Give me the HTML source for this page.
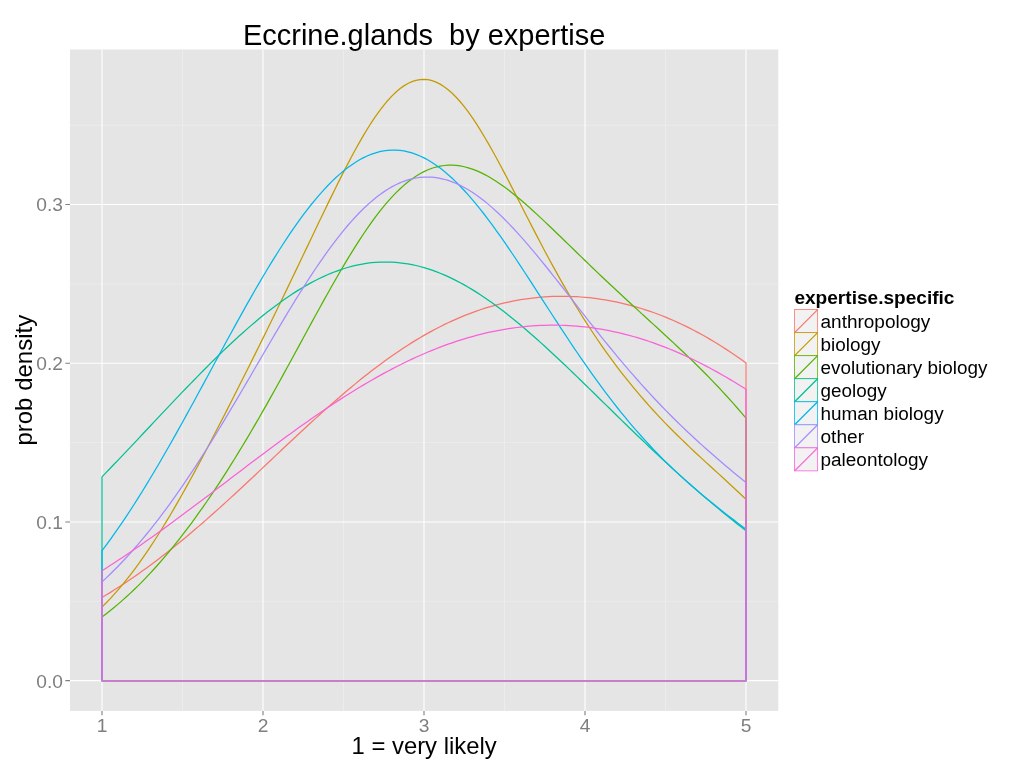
<!DOCTYPE html>
<html lang="en"><head><meta charset="utf-8"><title>Eccrine.glands by expertise</title>
<style>
html,body{margin:0;padding:0;background:#fff;}
body{width:1024px;height:768px;overflow:hidden;}
svg{display:block;font-family:"Liberation Sans",Arial,Helvetica,sans-serif;fill:#000;}
</style></head><body>
<svg width="1024" height="768" viewBox="0 0 1024 768">
<rect width="1024" height="768" fill="#FFFFFF"/>
<rect x="69.95" y="49.5" width="708.35" height="661.40" fill="#E5E5E5"/>
<path d="M69.95 601.29H778.3M69.95 442.57H778.3M69.95 283.85H778.3M69.95 125.13H778.3M182.5 49.5V710.9M343.5 49.5V710.9M504.5 49.5V710.9M665.5 49.5V710.9" stroke="#F2F2F2" stroke-width="0.55" fill="none"/>
<path d="M69.95 680.65H778.3M69.95 521.93H778.3M69.95 363.21H778.3M69.95 204.49H778.3M102 49.5V710.9M263 49.5V710.9M424 49.5V710.9M585 49.5V710.9M746 49.5V710.9" stroke="#FFFFFF" stroke-width="1.1" fill="none"/>
<path d="M102 680.65L102 597.49L106.02 595.07L110.05 592.6L114.07 590.09L118.1 587.52L122.12 584.9L126.15 582.24L130.18 579.53L134.2 576.76L138.23 573.95L142.25 571.09L146.27 568.19L150.3 565.23L154.32 562.23L158.35 559.19L162.38 556.1L166.4 552.96L170.43 549.79L174.45 546.56L178.48 543.3L182.5 540L186.52 536.65L190.55 533.27L194.58 529.85L198.6 526.4L202.62 522.91L206.65 519.39L210.68 515.84L214.7 512.25L218.73 508.64L222.75 505L226.77 501.34L230.8 497.66L234.83 493.95L238.85 490.22L242.88 486.48L246.9 482.72L250.93 478.95L254.95 475.17L258.98 471.38L263 467.58L267.03 463.78L271.05 459.97L275.08 456.17L279.1 452.37L283.12 448.57L287.15 444.78L291.17 441L295.2 437.23L299.23 433.47L303.25 429.73L307.28 426.01L311.3 422.31L315.33 418.64L319.35 414.99L323.38 411.36L327.4 407.77L331.42 404.21L335.45 400.68L339.48 397.19L343.5 393.73L347.53 390.32L351.55 386.95L355.58 383.63L359.6 380.35L363.62 377.11L367.65 373.93L371.67 370.8L375.7 367.72L379.73 364.7L383.75 361.73L387.78 358.82L391.8 355.97L395.83 353.18L399.85 350.45L403.88 347.78L407.9 345.17L411.92 342.63L415.95 340.15L419.98 337.74L424 335.39L428.02 333.12L432.05 330.9L436.08 328.76L440.1 326.69L444.12 324.68L448.15 322.75L452.18 320.88L456.2 319.08L460.23 317.35L464.25 315.69L468.27 314.1L472.3 312.59L476.33 311.14L480.35 309.76L484.38 308.44L488.4 307.2L492.43 306.03L496.45 304.92L500.48 303.89L504.5 302.92L508.53 302.02L512.55 301.19L516.58 300.42L520.6 299.72L524.62 299.09L528.65 298.52L532.68 298.02L536.7 297.58L540.73 297.21L544.75 296.9L548.78 296.66L552.8 296.48L556.83 296.36L560.85 296.31L564.88 296.32L568.9 296.4L572.93 296.54L576.95 296.74L580.98 297L585 297.33L589.03 297.72L593.05 298.17L597.08 298.68L601.1 299.26L605.12 299.9L609.15 300.6L613.18 301.37L617.2 302.2L621.22 303.09L625.25 304.04L629.28 305.06L633.3 306.15L637.33 307.29L641.35 308.51L645.38 309.78L649.4 311.12L653.43 312.53L657.45 314L661.47 315.54L665.5 317.14L669.53 318.81L673.55 320.54L677.58 322.34L681.6 324.21L685.62 326.14L689.65 328.14L693.68 330.21L697.7 332.34L701.72 334.53L705.75 336.8L709.78 339.13L713.8 341.52L717.83 343.98L721.85 346.51L725.88 349.1L729.9 351.75L733.93 354.47L737.95 357.25L741.97 360.09L746 363L746 680.65Z" stroke="#F8766D" stroke-width="1.25" fill="none" stroke-linejoin="round"/>
<path d="M102 680.65L102 607.09L106.02 603.04L110.05 598.83L114.07 594.44L118.1 589.86L122.12 585.11L126.15 580.19L130.18 575.08L134.2 569.79L138.23 564.33L142.25 558.69L146.27 552.88L150.3 546.91L154.32 540.77L158.35 534.48L162.38 528.03L166.4 521.45L170.43 514.72L174.45 507.86L178.48 500.88L182.5 493.79L186.52 486.59L190.55 479.29L194.58 471.89L198.6 464.42L202.62 456.87L206.65 449.25L210.68 441.57L214.7 433.83L218.73 426.05L222.75 418.22L226.77 410.35L230.8 402.44L234.83 394.5L238.85 386.53L242.88 378.53L246.9 370.51L250.93 362.45L254.95 354.37L258.98 346.26L263 338.12L267.03 329.95L271.05 321.75L275.08 313.51L279.1 305.25L283.12 296.95L287.15 288.63L291.17 280.27L295.2 271.89L299.23 263.48L303.25 255.06L307.28 246.62L311.3 238.19L315.33 229.76L319.35 221.34L323.38 212.97L327.4 204.63L331.42 196.37L335.45 188.18L339.48 180.1L343.5 172.15L347.53 164.35L351.55 156.72L355.58 149.3L359.6 142.1L363.62 135.16L367.65 128.5L371.67 122.16L375.7 116.16L379.73 110.53L383.75 105.29L387.78 100.47L391.8 96.1L395.83 92.2L399.85 88.78L403.88 85.87L407.9 83.49L411.92 81.63L415.95 80.33L419.98 79.57L424 79.37L428.02 79.73L432.05 80.65L436.08 82.11L440.1 84.12L444.12 86.66L448.15 89.7L452.18 93.25L456.2 97.28L460.23 101.75L464.25 106.66L468.27 111.98L472.3 117.67L476.33 123.7L480.35 130.06L484.38 136.7L488.4 143.59L492.43 150.71L496.45 158.02L500.48 165.5L504.5 173.11L508.53 180.82L512.55 188.61L516.58 196.45L520.6 204.32L524.62 212.19L528.65 220.05L532.68 227.87L536.7 235.63L540.73 243.32L544.75 250.93L548.78 258.45L552.8 265.86L556.83 273.16L560.85 280.34L564.88 287.39L568.9 294.31L572.93 301.1L576.95 307.75L580.98 314.27L585 320.65L589.03 326.9L593.05 333.01L597.08 339L601.1 344.85L605.12 350.58L609.15 356.19L613.18 361.67L617.2 367.03L621.22 372.28L625.25 377.42L629.28 382.45L633.3 387.37L637.33 392.19L641.35 396.91L645.38 401.53L649.4 406.06L653.43 410.5L657.45 414.86L661.47 419.13L665.5 423.33L669.53 427.45L673.55 431.5L677.58 435.49L681.6 439.42L685.62 443.3L689.65 447.13L693.68 450.92L697.7 454.67L701.72 458.4L705.75 462.1L709.78 465.79L713.8 469.47L717.83 473.14L721.85 476.82L725.88 480.51L729.9 484.21L733.93 487.93L737.95 491.68L741.97 495.46L746 499.27L746 680.65Z" stroke="#C49A00" stroke-width="1.25" fill="none" stroke-linejoin="round"/>
<path d="M102 680.65L102 616.95L106.02 613.91L110.05 610.76L114.07 607.5L118.1 604.13L122.12 600.65L126.15 597.06L130.18 593.36L134.2 589.54L138.23 585.61L142.25 581.57L146.27 577.41L150.3 573.14L154.32 568.76L158.35 564.26L162.38 559.65L166.4 554.93L170.43 550.1L174.45 545.16L178.48 540.11L182.5 534.95L186.52 529.68L190.55 524.3L194.58 518.82L198.6 513.24L202.62 507.55L206.65 501.76L210.68 495.87L214.7 489.88L218.73 483.79L222.75 477.6L226.77 471.32L230.8 464.95L234.83 458.49L238.85 451.94L242.88 445.3L246.9 438.58L250.93 431.78L254.95 424.9L258.98 417.94L263 410.92L267.03 403.83L271.05 396.68L275.08 389.47L279.1 382.21L283.12 374.91L287.15 367.57L291.17 360.19L295.2 352.8L299.23 345.39L303.25 337.98L307.28 330.57L311.3 323.17L315.33 315.8L319.35 308.46L323.38 301.17L327.4 293.94L331.42 286.79L335.45 279.72L339.48 272.74L343.5 265.88L347.53 259.14L351.55 252.55L355.58 246.1L359.6 239.82L363.62 233.72L367.65 227.82L371.67 222.12L375.7 216.64L379.73 211.39L383.75 206.39L387.78 201.63L391.8 197.14L395.83 192.92L399.85 188.99L403.88 185.34L407.9 181.98L411.92 178.93L415.95 176.17L419.98 173.73L424 171.59L428.02 169.76L432.05 168.24L436.08 167.02L440.1 166.11L444.12 165.5L448.15 165.19L452.18 165.16L456.2 165.42L460.23 165.95L464.25 166.75L468.27 167.8L472.3 169.1L476.33 170.64L480.35 172.4L484.38 174.38L488.4 176.56L492.43 178.93L496.45 181.48L500.48 184.19L504.5 187.06L508.53 190.06L512.55 193.2L516.58 196.46L520.6 199.82L524.62 203.28L528.65 206.82L532.68 210.43L536.7 214.11L540.73 217.85L544.75 221.63L548.78 225.45L552.8 229.3L556.83 233.18L560.85 237.07L564.88 240.98L568.9 244.89L572.93 248.8L576.95 252.71L580.98 256.61L585 260.5L589.03 264.38L593.05 268.25L597.08 272.1L601.1 275.93L605.12 279.75L609.15 283.54L613.18 287.32L617.2 291.08L621.22 294.83L625.25 298.55L629.28 302.27L633.3 305.97L637.33 309.66L641.35 313.34L645.38 317.02L649.4 320.7L653.43 324.38L657.45 328.06L661.47 331.75L665.5 335.45L669.53 339.17L673.55 342.91L677.58 346.67L681.6 350.46L685.62 354.29L689.65 358.15L693.68 362.05L697.7 366L701.72 369.99L705.75 374.04L709.78 378.15L713.8 382.32L717.83 386.55L721.85 390.84L725.88 395.21L729.9 399.65L733.93 404.16L737.95 408.74L741.97 413.4L746 418.14L746 680.65Z" stroke="#53B400" stroke-width="1.25" fill="none" stroke-linejoin="round"/>
<path d="M102 680.65L102 476.82L106.02 472.66L110.05 468.49L114.07 464.29L118.1 460.08L122.12 455.85L126.15 451.61L130.18 447.35L134.2 443.09L138.23 438.82L142.25 434.54L146.27 430.26L150.3 425.97L154.32 421.69L158.35 417.41L162.38 413.14L166.4 408.87L170.43 404.62L174.45 400.38L178.48 396.15L182.5 391.94L186.52 387.75L190.55 383.58L194.58 379.44L198.6 375.33L202.62 371.24L206.65 367.2L210.68 363.18L214.7 359.21L218.73 355.27L222.75 351.38L226.77 347.54L230.8 343.75L234.83 340.01L238.85 336.33L242.88 332.7L246.9 329.14L250.93 325.64L254.95 322.2L258.98 318.84L263 315.55L267.03 312.33L271.05 309.19L275.08 306.13L279.1 303.15L283.12 300.26L287.15 297.46L291.17 294.75L295.2 292.13L299.23 289.6L303.25 287.18L307.28 284.85L311.3 282.63L315.33 280.51L319.35 278.49L323.38 276.59L327.4 274.79L331.42 273.11L335.45 271.54L339.48 270.08L343.5 268.74L347.53 267.52L351.55 266.42L355.58 265.44L359.6 264.58L363.62 263.84L367.65 263.22L371.67 262.73L375.7 262.36L379.73 262.12L383.75 262L387.78 262L391.8 262.13L395.83 262.39L399.85 262.77L403.88 263.27L407.9 263.89L411.92 264.64L415.95 265.51L419.98 266.5L424 267.61L428.02 268.84L432.05 270.18L436.08 271.64L440.1 273.21L444.12 274.89L448.15 276.69L452.18 278.59L456.2 280.6L460.23 282.71L464.25 284.92L468.27 287.24L472.3 289.64L476.33 292.15L480.35 294.74L484.38 297.42L488.4 300.19L492.43 303.04L496.45 305.97L500.48 308.98L504.5 312.06L508.53 315.21L512.55 318.43L516.58 321.72L520.6 325.06L524.62 328.47L528.65 331.93L532.68 335.44L536.7 339L540.73 342.61L544.75 346.26L548.78 349.95L552.8 353.67L556.83 357.43L560.85 361.22L564.88 365.04L568.9 368.88L572.93 372.75L576.95 376.63L580.98 380.53L585 384.44L589.03 388.36L593.05 392.3L597.08 396.23L601.1 400.18L605.12 404.12L609.15 408.06L613.18 412L617.2 415.93L621.22 419.86L625.25 423.77L629.28 427.68L633.3 431.57L637.33 435.45L641.35 439.31L645.38 443.16L649.4 446.99L653.43 450.79L657.45 454.58L661.47 458.34L665.5 462.08L669.53 465.79L673.55 469.48L677.58 473.14L681.6 476.77L685.62 480.38L689.65 483.95L693.68 487.5L697.7 491.01L701.72 494.5L705.75 497.95L709.78 501.38L713.8 504.77L717.83 508.13L721.85 511.45L725.88 514.74L729.9 518L733.93 521.23L737.95 524.42L741.97 527.58L746 530.71L746 680.65Z" stroke="#00C094" stroke-width="1.25" fill="none" stroke-linejoin="round"/>
<path d="M102 680.65L102 550.72L106.02 545.34L110.05 539.84L114.07 534.22L118.1 528.46L122.12 522.59L126.15 516.59L130.18 510.48L134.2 504.25L138.23 497.91L142.25 491.47L146.27 484.92L150.3 478.27L154.32 471.53L158.35 464.71L162.38 457.8L166.4 450.81L170.43 443.75L174.45 436.62L178.48 429.43L182.5 422.18L186.52 414.89L190.55 407.56L194.58 400.19L198.6 392.79L202.62 385.37L206.65 377.94L210.68 370.5L214.7 363.05L218.73 355.62L222.75 348.2L226.77 340.81L230.8 333.44L234.83 326.11L238.85 318.83L242.88 311.6L246.9 304.43L250.93 297.34L254.95 290.31L258.98 283.38L263 276.54L267.03 269.79L271.05 263.16L275.08 256.64L279.1 250.25L283.12 243.99L287.15 237.87L291.17 231.89L295.2 226.08L299.23 220.42L303.25 214.94L307.28 209.63L311.3 204.5L315.33 199.57L319.35 194.84L323.38 190.31L327.4 186L331.42 181.9L335.45 178.03L339.48 174.39L343.5 170.98L347.53 167.81L351.55 164.9L355.58 162.23L359.6 159.81L363.62 157.66L367.65 155.77L371.67 154.14L375.7 152.79L379.73 151.7L383.75 150.89L387.78 150.36L391.8 150.1L395.83 150.11L399.85 150.4L403.88 150.97L407.9 151.81L411.92 152.93L415.95 154.31L419.98 155.96L424 157.88L428.02 160.05L432.05 162.49L436.08 165.17L440.1 168.1L444.12 171.27L448.15 174.67L452.18 178.3L456.2 182.15L460.23 186.21L464.25 190.47L468.27 194.93L472.3 199.57L476.33 204.38L480.35 209.37L484.38 214.51L488.4 219.79L492.43 225.22L496.45 230.76L500.48 236.43L504.5 242.2L508.53 248.06L512.55 254L516.58 260.02L520.6 266.1L524.62 272.23L528.65 278.4L532.68 284.6L536.7 290.82L540.73 297.05L544.75 303.29L548.78 309.52L552.8 315.73L556.83 321.92L560.85 328.08L564.88 334.2L568.9 340.27L572.93 346.29L576.95 352.24L580.98 358.14L585 363.96L589.03 369.7L593.05 375.37L597.08 380.95L601.1 386.45L605.12 391.86L609.15 397.17L613.18 402.39L617.2 407.51L621.22 412.54L625.25 417.47L629.28 422.31L633.3 427.04L637.33 431.68L641.35 436.23L645.38 440.68L649.4 445.04L653.43 449.31L657.45 453.48L661.47 457.58L665.5 461.59L669.53 465.52L673.55 469.37L677.58 473.15L681.6 476.85L685.62 480.49L689.65 484.06L693.68 487.58L697.7 491.03L701.72 494.44L705.75 497.79L709.78 501.09L713.8 504.35L717.83 507.57L721.85 510.75L725.88 513.9L729.9 517.01L733.93 520.1L737.95 523.16L741.97 526.19L746 529.2L746 680.65Z" stroke="#00B6EB" stroke-width="1.25" fill="none" stroke-linejoin="round"/>
<path d="M102 680.65L102 581.92L106.02 578.16L110.05 574.29L114.07 570.31L118.1 566.23L122.12 562.03L126.15 557.72L130.18 553.31L134.2 548.78L138.23 544.13L142.25 539.38L146.27 534.52L150.3 529.54L154.32 524.46L158.35 519.26L162.38 513.96L166.4 508.55L170.43 503.03L174.45 497.41L178.48 491.69L182.5 485.87L186.52 479.95L190.55 473.93L194.58 467.83L198.6 461.64L202.62 455.36L206.65 449L210.68 442.57L214.7 436.07L218.73 429.5L222.75 422.87L226.77 416.18L230.8 409.44L234.83 402.66L238.85 395.84L242.88 388.99L246.9 382.11L250.93 375.22L254.95 368.31L258.98 361.4L263 354.5L267.03 347.61L271.05 340.74L275.08 333.9L279.1 327.1L283.12 320.34L287.15 313.64L291.17 307.01L295.2 300.44L299.23 293.96L303.25 287.57L307.28 281.27L311.3 275.09L315.33 269.02L319.35 263.08L323.38 257.28L327.4 251.62L331.42 246.11L335.45 240.76L339.48 235.59L343.5 230.59L347.53 225.77L351.55 221.15L355.58 216.72L359.6 212.5L363.62 208.5L367.65 204.71L371.67 201.15L375.7 197.82L379.73 194.72L383.75 191.87L387.78 189.25L391.8 186.89L395.83 184.77L399.85 182.9L403.88 181.29L407.9 179.94L411.92 178.84L415.95 178L419.98 177.42L424 177.1L428.02 177.03L432.05 177.21L436.08 177.65L440.1 178.34L444.12 179.27L448.15 180.44L452.18 181.85L456.2 183.5L460.23 185.38L464.25 187.47L468.27 189.79L472.3 192.31L476.33 195.04L480.35 197.97L484.38 201.08L488.4 204.38L492.43 207.86L496.45 211.49L500.48 215.29L504.5 219.24L508.53 223.32L512.55 227.54L516.58 231.88L520.6 236.34L524.62 240.9L528.65 245.56L532.68 250.31L536.7 255.13L540.73 260.03L544.75 264.99L548.78 270L552.8 275.05L556.83 280.14L560.85 285.26L564.88 290.41L568.9 295.56L572.93 300.73L576.95 305.89L580.98 311.05L585 316.19L589.03 321.32L593.05 326.42L597.08 331.5L601.1 336.54L605.12 341.54L609.15 346.5L613.18 351.41L617.2 356.28L621.22 361.09L625.25 365.85L629.28 370.55L633.3 375.2L637.33 379.78L641.35 384.3L645.38 388.77L649.4 393.16L653.43 397.5L657.45 401.77L661.47 405.98L665.5 410.13L669.53 414.22L673.55 418.25L677.58 422.22L681.6 426.13L685.62 429.98L689.65 433.79L693.68 437.54L697.7 441.24L701.72 444.89L705.75 448.5L709.78 452.06L713.8 455.58L717.83 459.07L721.85 462.51L725.88 465.92L729.9 469.3L733.93 472.65L737.95 475.97L741.97 479.27L746 482.54L746 680.65Z" stroke="#A58AFF" stroke-width="1.25" fill="none" stroke-linejoin="round"/>
<path d="M102 680.65L102 570.72L106.02 568.16L110.05 565.58L114.07 562.97L118.1 560.32L122.12 557.66L126.15 554.96L130.18 552.24L134.2 549.49L138.23 546.72L142.25 543.92L146.27 541.11L150.3 538.26L154.32 535.4L158.35 532.52L162.38 529.62L166.4 526.7L170.43 523.76L174.45 520.81L178.48 517.84L182.5 514.86L186.52 511.86L190.55 508.85L194.58 505.84L198.6 502.81L202.62 499.77L206.65 496.72L210.68 493.67L214.7 490.61L218.73 487.55L222.75 484.49L226.77 481.42L230.8 478.36L234.83 475.29L238.85 472.23L242.88 469.17L246.9 466.11L250.93 463.06L254.95 460.02L258.98 456.98L263 453.96L267.03 450.94L271.05 447.94L275.08 444.95L279.1 441.97L283.12 439.01L287.15 436.07L291.17 433.15L295.2 430.24L299.23 427.36L303.25 424.49L307.28 421.65L311.3 418.83L315.33 416.04L319.35 413.28L323.38 410.54L327.4 407.83L331.42 405.15L335.45 402.5L339.48 399.88L343.5 397.29L347.53 394.74L351.55 392.22L355.58 389.74L359.6 387.29L363.62 384.88L367.65 382.51L371.67 380.17L375.7 377.88L379.73 375.63L383.75 373.42L387.78 371.25L391.8 369.12L395.83 367.04L399.85 365L403.88 363.01L407.9 361.06L411.92 359.16L415.95 357.3L419.98 355.49L424 353.73L428.02 352.02L432.05 350.36L436.08 348.75L440.1 347.18L444.12 345.67L448.15 344.21L452.18 342.8L456.2 341.44L460.23 340.14L464.25 338.88L468.27 337.68L472.3 336.54L476.33 335.44L480.35 334.4L484.38 333.41L488.4 332.48L492.43 331.61L496.45 330.78L500.48 330.02L504.5 329.31L508.53 328.65L512.55 328.05L516.58 327.5L520.6 327.02L524.62 326.58L528.65 326.21L532.68 325.89L536.7 325.63L540.73 325.42L544.75 325.27L548.78 325.18L552.8 325.15L556.83 325.17L560.85 325.25L564.88 325.39L568.9 325.59L572.93 325.84L576.95 326.15L580.98 326.52L585 326.94L589.03 327.43L593.05 327.97L597.08 328.56L601.1 329.22L605.12 329.93L609.15 330.7L613.18 331.53L617.2 332.41L621.22 333.36L625.25 334.35L629.28 335.41L633.3 336.52L637.33 337.69L641.35 338.91L645.38 340.19L649.4 341.53L653.43 342.92L657.45 344.37L661.47 345.87L665.5 347.42L669.53 349.03L673.55 350.7L677.58 352.41L681.6 354.18L685.62 356.01L689.65 357.88L693.68 359.81L697.7 361.78L701.72 363.81L705.75 365.88L709.78 368.01L713.8 370.18L717.83 372.4L721.85 374.67L725.88 376.99L729.9 379.35L733.93 381.75L737.95 384.2L741.97 386.69L746 389.22L746 680.65Z" stroke="#FB61D7" stroke-width="1.25" fill="none" stroke-linejoin="round"/>
<path d="M65.35000000000001 680.65H69.95M65.35000000000001 521.93H69.95M65.35000000000001 363.21H69.95M65.35000000000001 204.49H69.95M102 710.9V715.1999999999999M263 710.9V715.1999999999999M424 710.9V715.1999999999999M585 710.9V715.1999999999999M746 710.9V715.1999999999999" stroke="#7F7F7F" stroke-width="1.1" fill="none"/>
<g font-size="19.2" fill="#7F7F7F">
<text x="63" y="688.2" text-anchor="end">0.0</text>
<text x="63" y="529.0" text-anchor="end">0.1</text>
<text x="63" y="370.0" text-anchor="end">0.2</text>
<text x="63" y="211.2" text-anchor="end">0.3</text>
<text x="102" y="731.6" text-anchor="middle">1</text>
<text x="263" y="731.6" text-anchor="middle">2</text>
<text x="424" y="731.6" text-anchor="middle">3</text>
<text x="585" y="731.6" text-anchor="middle">4</text>
<text x="746" y="731.6" text-anchor="middle">5</text>
</g>
<text x="424.12" y="44.8" font-size="28.8" text-anchor="middle" textLength="362.3" lengthAdjust="spacingAndGlyphs" style="white-space:pre">Eccrine.glands  by expertise</text>
<text x="424.12" y="753.8" font-size="24" text-anchor="middle" textLength="145.1" lengthAdjust="spacingAndGlyphs">1 = very likely</text>
<text transform="translate(32.3 380.2) rotate(-90)" font-size="24" text-anchor="middle">prob density</text>
<text x="794.4" y="303.8" font-size="19.2" font-weight="bold" textLength="160.1" lengthAdjust="spacingAndGlyphs">expertise.specific</text>
<rect x="794.6" y="309.6" width="23.04" height="23.04" fill="#F2F2F2" stroke="#F8766D" stroke-width="0.8"/>
<path d="M794.6 332.64L817.64 309.6" stroke="#F8766D" stroke-width="1.25"/>
<text x="820.5" y="328.02" font-size="19.2" textLength="109.85" lengthAdjust="spacingAndGlyphs">anthropology</text>
<rect x="794.6" y="332.64" width="23.04" height="23.04" fill="#F2F2F2" stroke="#C49A00" stroke-width="0.8"/>
<path d="M794.6 355.68L817.64 332.64" stroke="#C49A00" stroke-width="1.25"/>
<text x="820.5" y="351.06" font-size="19.2" textLength="59.9" lengthAdjust="spacingAndGlyphs">biology</text>
<rect x="794.6" y="355.68" width="23.04" height="23.04" fill="#F2F2F2" stroke="#53B400" stroke-width="0.8"/>
<path d="M794.6 378.72L817.64 355.68" stroke="#53B400" stroke-width="1.25"/>
<text x="820.5" y="374.1" font-size="19.2" textLength="166.9" lengthAdjust="spacingAndGlyphs">evolutionary biology</text>
<rect x="794.6" y="378.72" width="23.04" height="23.04" fill="#F2F2F2" stroke="#00C094" stroke-width="0.8"/>
<path d="M794.6 401.76L817.64 378.72" stroke="#00C094" stroke-width="1.25"/>
<text x="820.5" y="397.14" font-size="19.2" textLength="66.2" lengthAdjust="spacingAndGlyphs">geology</text>
<rect x="794.6" y="401.76" width="23.04" height="23.04" fill="#F2F2F2" stroke="#00B6EB" stroke-width="0.8"/>
<path d="M794.6 424.8L817.64 401.76" stroke="#00B6EB" stroke-width="1.25"/>
<text x="820.5" y="420.18" font-size="19.2" textLength="123.1" lengthAdjust="spacingAndGlyphs">human biology</text>
<rect x="794.6" y="424.8" width="23.04" height="23.04" fill="#F2F2F2" stroke="#A58AFF" stroke-width="0.8"/>
<path d="M794.6 447.84L817.64 424.8" stroke="#A58AFF" stroke-width="1.25"/>
<text x="820.5" y="443.22" font-size="19.2" textLength="43.5" lengthAdjust="spacingAndGlyphs">other</text>
<rect x="794.6" y="447.84" width="23.04" height="23.04" fill="#F2F2F2" stroke="#FB61D7" stroke-width="0.8"/>
<path d="M794.6 470.88L817.64 447.84" stroke="#FB61D7" stroke-width="1.25"/>
<text x="820.5" y="466.26" font-size="19.2" textLength="107.6" lengthAdjust="spacingAndGlyphs">paleontology</text>
</svg>
</body></html>
